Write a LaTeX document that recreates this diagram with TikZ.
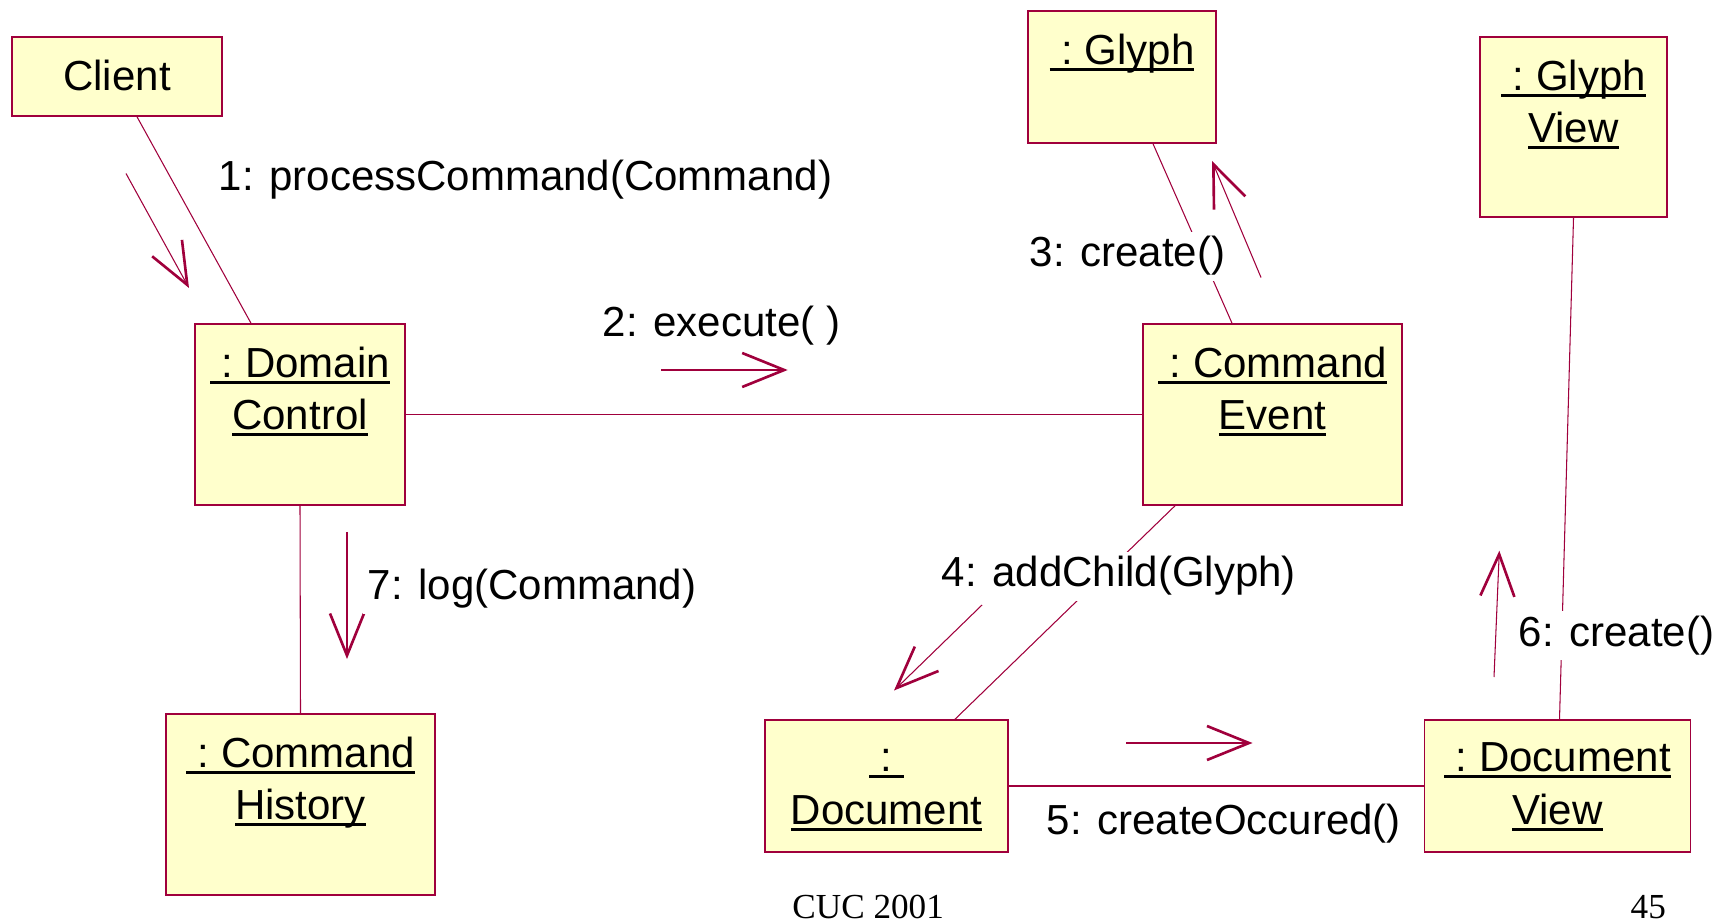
\documentclass[tikz,border=0pt]{standalone}
\usepackage{fontspec}
\setmainfont{Liberation Sans}
\newfontfamily\serifnote{Liberation Serif}
\usetikzlibrary{arrows.meta}
\definecolor{umlred}{RGB}{160,0,60}
\definecolor{umlfill}{RGB}{255,255,204}
\newsavebox{\ulsave}
\newcommand{\objname}[1]{\sbox{\ulsave}{#1}\rlap{\rule[-1.8pt]{\wd\ulsave}{0.85pt}}\usebox{\ulsave}}

\begin{document}
\begin{tikzpicture}[
  x=0.01cm, y=-0.01cm,
  font=\fontsize{11.95}{14.9}\selectfont,
  obj/.style={rectangle, draw=umlred, fill=umlfill, line width=0.45pt, inner sep=0pt},
  objtxt/.style={anchor=north, align=center, inner sep=0.23cm},
  link/.style={draw=umlred, line width=0.3pt},
  msg/.style={draw=umlred, line width=0.3pt, -{Straight Barb[length=0.42cm, width=0.34cm, line width=0.75pt]}},
  lbl/.style={anchor=base west, inner sep=0.05cm, fill=white},
  foot/.style={anchor=base west, inner sep=0pt, font=\serifnote\fontsize{10}{12}\selectfont},
]
  \useasboundingbox (0,0) rectangle (1722,922);

  % objects
  \node[obj, minimum width=2.10cm, minimum height=0.79cm] (client) at (117,76.5) {\raisebox{0.5pt}{Client}};
  \node[obj, minimum width=2.10cm, minimum height=1.81cm,
        label={[objtxt]north:{\objname{\ :\ Domain}\\\objname{Control}}}] (dc) at (300,414.5) {};
  \node[obj, minimum width=2.59cm, minimum height=1.81cm,
        label={[objtxt]north:{\objname{\ :\ Command}\\\objname{Event}}}] (ce) at (1272.5,414.5) {};
  \node[obj, minimum width=1.88cm, minimum height=1.32cm,
        label={[objtxt]north:{\objname{\ :\ Glyph}}}] (glyph) at (1122,77) {};
  \node[obj, minimum width=1.87cm, minimum height=1.80cm,
        label={[objtxt]north:{\objname{\ :\ Glyph}\\\objname{View}}}] (gv) at (1573.5,127) {};
  \node[obj, minimum width=2.43cm, minimum height=1.32cm,
        label={[objtxt]north:{\vphantom{D}\objname{\ :\ }\\\objname{Document}}}] (doc) at (886.5,786) {};
  \node[obj, minimum width=2.66cm, minimum height=1.32cm,
        label={[objtxt]north:{\objname{\ :\ Document}\\\objname{View}}}] (dv) at (1557.5,786) {};
  \node[obj, minimum width=2.69cm, minimum height=1.81cm,
        label={[objtxt]north:{\objname{\ :\ Command}\\\objname{History}}}] (ch) at (300.5,804.5) {};

  % links
  \draw[link] ([xshift=0.2cm]client.south) -- ([xshift=-0.49cm]dc.north);
  \draw[link] (dc.east) -- (ce.west);
  \draw[link] (dc.south) -- (ch.north);
  \draw[link] ([xshift=0.31cm]glyph.south) -- ([xshift=-0.405cm]ce.north);
  \draw[link] ([xshift=-0.975cm]ce.south) -- ([xshift=0.685cm]doc.north);
  \draw[link] (doc.east) -- (dv.west);
  \draw[link] ([xshift=0.02cm]dv.north) -- (gv.south);

  % message arrows
  \coordinate (m1a) at (126,173.5);  \coordinate (m1b) at (189,288);
  \coordinate (m2a) at (661,370);    \coordinate (m2b) at (787.7,370);
  \coordinate (m3a) at (1261,277.5); \coordinate (m3b) at (1212,161);
  \coordinate (m4a) at (982,605);    \coordinate (m4b) at (894,690.5);
  \coordinate (m5a) at (1126,743);   \coordinate (m5b) at (1252.5,743);
  \coordinate (m6a) at (1494,677);   \coordinate (m6b) at (1499.3,550.7);
  \coordinate (m7a) at (347,532);    \coordinate (m7b) at (347,659);
  \draw[msg] (m1a) -- (m1b);
  \draw[msg] (m2a) -- (m2b);
  \draw[msg] (m3a) -- (m3b);
  \draw[msg] (m4a) -- (m4b);
  \draw[msg] (m5a) -- (m5b);
  \draw[msg] (m6a) -- (m6b);
  \draw[msg] (m7a) -- (m7b);

  % message labels
  \node[lbl] (l1) at (213,190.7) {1: processCommand(Command)};
  \node[lbl] (l2) at (597,337) {2: execute( )};
  \node[lbl] (l3) at (1024,267) {3: create()};
  \node[lbl] (l4) at (936,587) {4: addChild(Glyph)};
  \node[lbl] (l5) at (1041,834) {5: createOccured()};
  \node[lbl] (l6) at (1513,646) {6: create()};
  \node[lbl] (l7) at (362,600) {7: log(Command)};

  \node[foot] (cuc) at (791.7,918.3) {CUC 2001};
  \node[foot] (page) at (1630,918.3) {45};
\end{tikzpicture}
\end{document}
